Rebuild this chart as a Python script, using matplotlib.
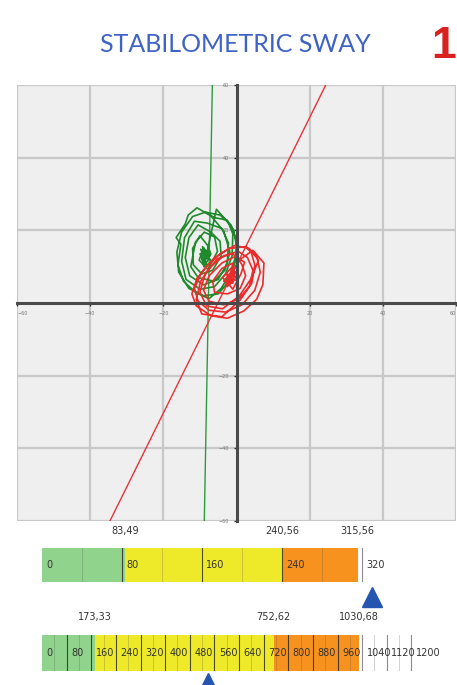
import matplotlib
matplotlib.use("Agg")
import matplotlib.pyplot as plt

# sway traces (data units, mm)
green_x = [-8.5, -4.5, -1.5, 0.0, -0.3, -2.0, -5.0, -9.0, -13.0, -15.8, -16.3, -15.0, -12.0, -8.5,
           -6.0, -2.5, -1.0, -1.2, -3.0, -6.0, -10.0, -13.8, -15.0, -14.2, -11.5, -8.0,
           -4.0, -2.2, -2.5, -5.0, -9.0, -12.8, -14.0, -13.0, -10.5,
           -7.0, -4.5, -4.2, -6.5, -9.5, -11.8, -12.0, -10.0,
           -8.0, -7.0, -9.5, -8.0, -10.0, -7.5, -9.0, -8.2, -6.8, -9.8, -8.5, -7.2, -9.3, -8.4,
           -5.5, -3.0, -0.8, 0.2, -1.5, -4.2, -7.5, -11.0, -14.5, -16.0, -15.2, -16.5, -14.0,
           -13.2, -10.8, -7.0, -3.5, -1.8, -3.2, -6.2, -10.5, -12.5, -11.2, -8.8, -6.0,
           -5.2, -7.8, -10.2, -9.0, -7.6, -8.9, -9.6, -7.9]
green_y = [25.0, 24.2, 21.5, 17.0, 11.5, 6.0, 2.5, 2.0, 4.0, 8.5, 14.0, 19.5, 23.8, 25.0,
           23.5, 22.8, 19.0, 13.0, 8.0, 4.5, 3.8, 6.5, 11.5, 18.0, 22.5, 22.0,
           20.5, 16.5, 11.0, 6.5, 5.0, 7.5, 12.5, 18.0, 21.5,
           19.5, 17.0, 13.0, 9.0, 8.0, 10.5, 15.0, 18.5,
           16.0, 13.5, 12.0, 10.5, 13.5, 14.5, 11.0, 12.8, 11.5, 14.8, 12.0, 13.0, 15.5, 12.5,
           25.8, 23.0, 20.2, 14.5, 8.5, 4.0, 1.2, 2.8, 6.0, 10.5, 16.2, 18.0, 21.8,
           24.2, 26.2, 24.0, 19.8, 14.0, 9.0, 6.0, 7.0, 10.0, 16.8, 19.5, 18.2,
           14.2, 9.2, 11.8, 15.2, 12.2, 10.0, 13.2, 14.0]

red_x = [2.5, 5.5, 6.5, 5.0, 1.5, -3.0, -7.5, -10.5, -11.5, -9.5, -6.0, -2.0, 2.5,
         4.0, 5.0, 4.2, 1.0, -4.0, -9.5, -11.0, -9.8, -7.0, -3.5, 0.5,
         3.0, 4.5, 3.5, 0.5, -3.5, -7.5, -9.0, -7.5, -4.0, 0.0,
         1.5, 2.5, 1.0, -2.5, -6.0, -6.5, -4.0, -1.0,
         -1.5, -3.5, -1.0, -2.8, -0.5, -3.0, -1.8, 0.5, -2.0, -2.6, -0.8, -2.2,
         1.0, 4.5, 7.5, 7.2, 5.5, 2.0, -2.5, -7.0, -11.0, -12.2, -10.8, -8.0, -4.5,
         -0.5, 3.5, 6.0, 4.2, 0.8, -3.8, -8.2, -10.0, -8.5, -5.2, -1.2, 2.2,
         1.2, -1.0, -3.8, -1.5, 0.2, -2.4, -0.6]
red_y = [15.5, 13.0, 8.5, 3.5, -0.5, -2.5, -2.0, 0.5, 4.0, 8.5, 12.5, 15.0, 15.5,
         14.0, 10.5, 5.5, 0.8, -3.8, -3.0, 1.0, 6.0, 10.0, 13.0, 14.2,
         12.5, 9.0, 4.5, 1.0, -0.5, 0.5, 3.5, 7.5, 11.0, 13.0,
         10.5, 7.5, 4.0, 2.5, 3.0, 6.0, 9.5, 11.0,
         8.5, 6.0, 5.5, 8.0, 7.0, 5.0, 7.5, 9.0, 6.5, 4.5, 6.0, 7.2,
         12.0, 14.5, 11.0, 5.0, 1.0, -2.2, -4.2, -3.5, -0.8, 2.5, 6.8, 10.2, 13.5,
         15.8, 15.0, 11.8, 7.0, 2.0, -1.6, -0.8, 3.0, 8.2, 12.2, 13.6, 11.2,
         8.0, 3.8, 7.0, 9.6, 6.2, 6.8, 8.8]

# principal axis lines (end points read at the plot border)
green_axis_x = [-6.6, -8.8]
green_axis_y = [60, -60]
red_axis_x = [24.4, -34.6]
red_axis_y = [60, -60]

ticks = [-60, -40, -20, 20, 40, 60]

# scale bars
bar1_edges = [0, 83.49, 240.56, 315.56]
bar1_labels = [0, 80, 160, 240, 320]
bar1_marker = 330
bar2_edges = [0, 173.33, 752.62, 1030.68]
bar2_labels = [0, 80, 160, 240, 320, 400, 480, 560, 640, 720, 800, 880, 960, 1040, 1120, 1200]
bar2_marker = 540
zone_colors = ["#8fd38c", "#eeea2a", "#f7921f"]

W, H = 457, 685
fig = plt.figure(figsize=(W / 100, H / 100), dpi=100)


def box(x0, y0, x1, y1):
    return [x0 / W, 1 - y1 / H, (x1 - x0) / W, (y1 - y0) / H]


fig.text(235 / W, 1 - 45 / H, "STABILOMETRIC SWAY", ha="center", va="center",
         fontsize=18, color="#3f63c4", family="Lato")
fig.text(456 / W, 1 - 47 / H, "1", ha="right", va="center", fontsize=32,
         fontweight="bold", color="#d9211f", family="Liberation Sans")

ax = fig.add_axes(box(17, 85, 456, 521))
ax.set_facecolor("#efefef")
ax.set_xlim(-60, 60)
ax.set_ylim(-60, 60)
ax.set_xticks(ticks)
ax.set_yticks(ticks)
ax.grid(True, color="#c8c8c8", lw=1.6)
ax.set_axisbelow(True)
for s in ["top", "right"]:
    ax.spines[s].set_visible(False)
for s in ["left", "bottom"]:
    ax.spines[s].set_position("zero")
    ax.spines[s].set_color("#4a4a4a")
    ax.spines[s].set_linewidth(2.2)
ax.tick_params(labelsize=3.5, labelcolor="#777777", length=2, width=1, color="#333333")
xl = ax.get_xticklabels()
xl[-1].set_ha("right")
xl[0].set_ha("left")

ax.plot(green_axis_x, green_axis_y, color="#2e9a3e", lw=1)
ax.plot(red_axis_x, red_axis_y, color="#e8333a", lw=1)
ax.plot(green_x, green_y, color="#1f8a2c", lw=1.2)
ax.plot(red_x, red_y, color="#ee2b2b", lw=1.2)


def draw_bar(ax, edges, labels, xmax, marker, step, my):
    ax.set_xlim(0, xmax)
    ax.set_ylim(0, 1)
    ax.axis("off")
    for i in range(3):
        ax.barh(0.5, edges[i + 1] - edges[i], left=edges[i], height=1,
                color=zone_colors[i], edgecolor="none")
    v = step / 2
    while v <= xmax:
        ax.plot([v, v], [0, 1], color="#555555", lw=0.6, alpha=0.3)
        v += step / 2
    for lb in labels[1:]:
        if lb < edges[-1]:
            ax.plot([lb, lb], [0, 1], color="#222222", lw=0.8, alpha=0.75)
        else:
            ax.plot([lb, lb], [0, 1], color="#8a8a9a", lw=0.8)
    off = xmax * 0.012
    for lb in labels:
        ax.text(lb + off, 0.5, str(lb), ha="left", va="center", fontsize=7,
                color="#333333")
    for e in edges[1:]:
        ax.text(e, 1.35, f"{e:.2f}".replace(".", ","), ha="center", va="bottom",
                fontsize=7, color="#333333", clip_on=False)
    ax.plot([marker], [my], marker="^", markersize=14, color="#2455b0",
            clip_on=False, ls="none")


ax1 = fig.add_axes(box(42, 548, 402, 582))
draw_bar(ax1, bar1_edges, bar1_labels, 360, bar1_marker, 80, -0.44)

ax2 = fig.add_axes(box(42, 635, 416, 671))
draw_bar(ax2, bar2_edges, bar2_labels, 1215, bar2_marker, 80, -0.33)

fig.savefig("out.png", dpi=100)
